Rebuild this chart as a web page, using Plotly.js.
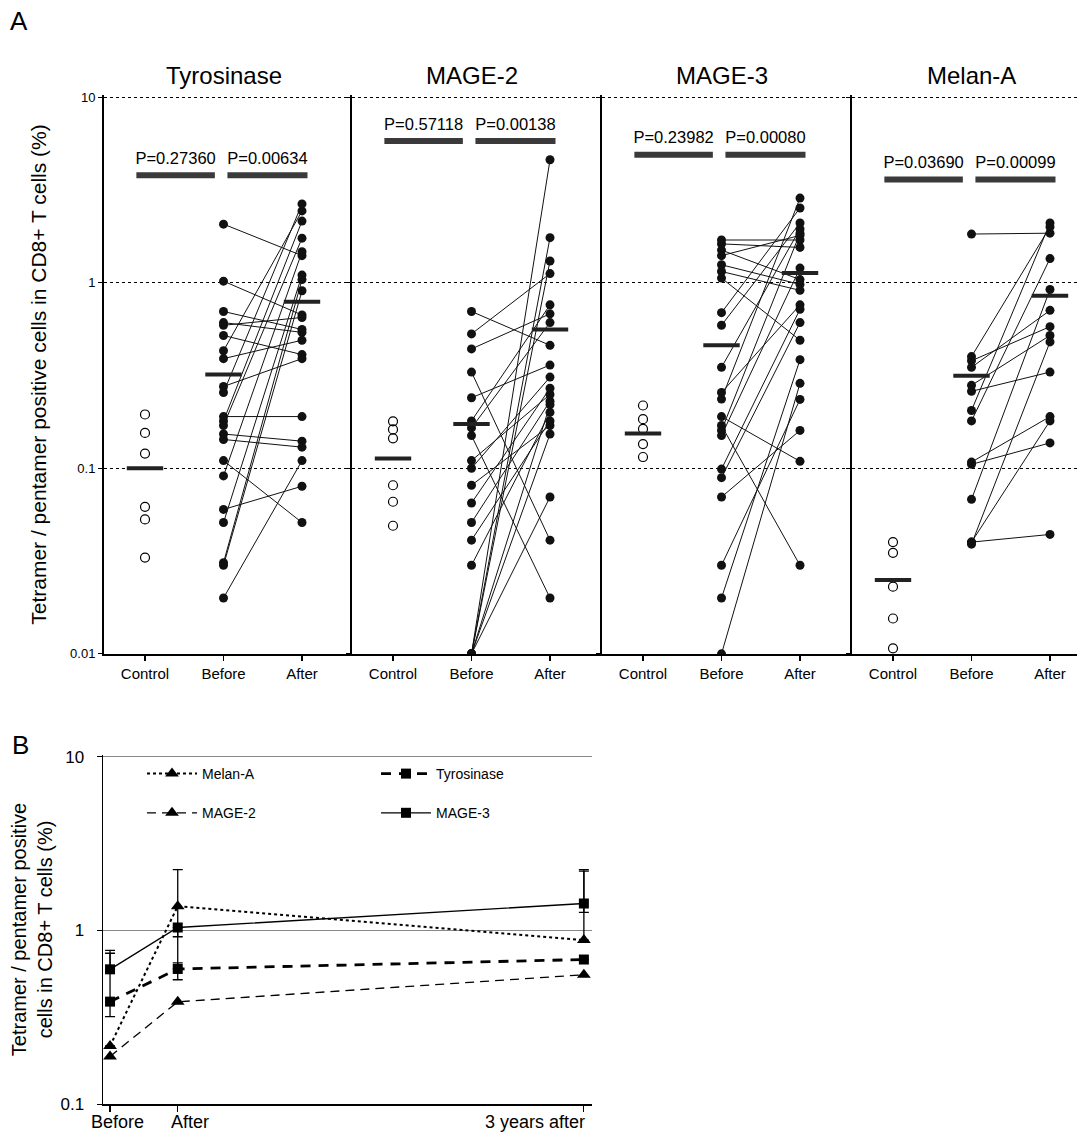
<!DOCTYPE html>
<html><head><meta charset="utf-8">
<script src="https://cdn.plot.ly/plotly-3.0.1.min.js"></script>
<style>body{margin:0;background:#fff}#chart{width:1077px;height:1137px}</style>
</head><body><div id="chart"></div>
<script>
// ---------------- DATA ----------------
const groups = ['Control', 'Before', 'After'];
const panelNames = ['Tyrosinase', 'MAGE-2', 'MAGE-3', 'Melan-A'];

const tyrControl = [0.195, 0.155, 0.12, 0.062, 0.053, 0.033];
const tyrBefore = [2.07, 1.02, 0.70, 0.61, 0.59, 0.52, 0.43, 0.39, 0.276, 0.256, 0.19, 0.18, 0.17, 0.153, 0.143, 0.110, 0.091, 0.060, 0.051, 0.031, 0.030, 0.020];
const tyrAfter  = [1.40, 0.67, 0.56, 0.54, 0.65, 0.41, 2.44, 0.49, 0.39, 2.66, 0.19, 2.15, 1.74, 0.14, 0.13, 0.051, 1.47, 0.080, 1.10, 1.04, 0.905, 0.11];
const tyrMeans = [0.10, 0.32, 0.79];
const tyrP = ['P=0.27360', 'P=0.00634'];

const mage2Control = [0.179, 0.162, 0.145, 0.081, 0.066, 0.049];
const mage2Before = [0.70, 0.53, 0.44, 0.33, 0.24, 0.18, 0.165, 0.15, 0.11, 0.10, 0.081, 0.065, 0.051, 0.041, 0.030, 0.01, 0.01, 0.01, 0.01, 0.01, 0.01];
const mage2After  = [0.46, 1.12, 0.68, 0.041, 0.36, 0.76, 0.61, 0.020, 0.25, 0.31, 0.17, 0.27, 0.23, 0.18, 0.20, 4.6, 1.75, 1.31, 0.22, 0.153, 0.07];
const mage2Means = [0.113, 0.173, 0.56];
const mage2P = ['P=0.57118', 'P=0.00138'];

const mage3Control = [0.218, 0.184, 0.163, 0.135, 0.115];
const mage3Before = [1.70, 1.62, 1.50, 1.40, 1.25, 1.15, 1.06, 0.69, 0.59, 0.35, 0.256, 0.236, 0.19, 0.17, 0.16, 0.15, 0.099, 0.089, 0.07, 0.030, 0.020, 0.01];
const mage3After  = [1.70, 1.55, 1.04, 1.80, 0.98, 0.91, 0.49, 2.53, 2.10, 1.95, 0.76, 2.86, 0.109, 0.030, 1.85, 1.20, 0.72, 0.61, 0.16, 0.235, 0.385, 0.287];
const mage3Means = [0.154, 0.46, 1.13];
const mage3P = ['P=0.23982', 'P=0.00080'];

const melanControl = [0.040, 0.035, 0.023, 0.0155, 0.0107];
const melanBefore = [1.83, 0.40, 0.38, 0.35, 0.28, 0.26, 0.205, 0.18, 0.108, 0.105, 0.068, 0.040, 0.040, 0.039];
const melanAfter  = [1.85, 2.00, 0.58, 0.71, 0.52, 0.33, 2.10, 1.35, 0.19, 0.137, 0.92, 0.044, 0.18, 0.48];
const melanMeans = [0.025, 0.315, 0.85];
const melanP = ['P=0.03690', 'P=0.00099'];

// Panel B
const bTimes = [0, 0.5, 3.5];
const bTickLabels = ['Before', 'After', '3 years after'];
const bSeriesNames = ['Melan-A', 'Tyrosinase', 'MAGE-2', 'MAGE-3'];
const bMelanA = [0.216, 1.38, 0.88];
const bMelanAErrUp = [null, 0.86, 1.32];
const bMelanAErrDown = [null, 0.86, null];
const bTyr = [0.389, 0.60, 0.68];
const bTyrErrUp = [0.35, 0.05, null];
const bTyrErrDown = [0.07, null, null];
const bMAGE2 = [0.188, 0.388, 0.556];
const bMAGE3 = [0.597, 1.04, 1.43];
const bMAGE3ErrUp = [0.17, null, 0.81];
const bMAGE3ErrDown = [null, 0.12, 0.16];

// ---------------- LAYOUT CONSTANTS ----------------
const W = 1077, H = 1137;
const FONT = 'Arial, "Liberation Sans", sans-serif';
const px = v => v / W, py = v => 1 - v / H;
const panelX = [[104, 350], [352, 600], [602, 850], [852, 1077]];
const panelYTop = 95, panelYBot = 654;
const unitPx = 78.5;
const pBarLevel = [3.8, 5.8, 4.9, 3.6];
const pBarSpans = [[-0.11, 0.89], [1.05, 2.07]];

const panelData = [
  [tyrControl, tyrBefore, tyrAfter, tyrMeans, tyrP],
  [mage2Control, mage2Before, mage2After, mage2Means, mage2P],
  [mage3Control, mage3Before, mage3After, mage3Means, mage3P],
  [melanControl, melanBefore, melanAfter, melanMeans, melanP]
];

const traces = [];
const layout = {
  width: W, height: H, margin: {l: 0, r: 0, t: 0, b: 0},
  paper_bgcolor: '#fff', plot_bgcolor: 'rgba(0,0,0,0)',
  font: {family: FONT, color: '#000'},
  showlegend: true,
  annotations: []
};

panelData.forEach((pd, i) => {
  const [control, before, after, means, pvals] = pd;
  const n = i + 1;
  const xa = 'x' + (n > 1 ? n : ''), ya = 'y' + (n > 1 ? n : '');
  const ci = g => groups.indexOf(g);
  // paired lines
  const lx = [], ly = [];
  before.forEach((b, k) => { lx.push(ci('Before'), ci('After'), null); ly.push(b, after[k], null); });
  traces.push({type: 'scatter', mode: 'lines', x: lx, y: ly, xaxis: xa, yaxis: ya,
    line: {color: '#111', width: 1}, hoverinfo: 'skip', showlegend: false});
  // control open circles
  traces.push({type: 'scatter', mode: 'markers', x: control.map(() => ci('Control')), y: control,
    xaxis: xa, yaxis: ya, showlegend: false,
    marker: {symbol: 'circle-open', size: 9, color: '#000', line: {width: 1.2}}});
  // before / after
  traces.push({type: 'scatter', mode: 'markers',
    x: before.map(() => ci('Before')).concat(after.map(() => ci('After'))),
    y: before.concat(after), xaxis: xa, yaxis: ya, showlegend: false,
    marker: {symbol: 'circle', size: 9, color: '#111'}});
  // means
  traces.push({type: 'scatter', mode: 'markers', x: groups.map(ci), y: means, xaxis: xa, yaxis: ya,
    showlegend: false, marker: {symbol: 'line-ew', size: 26, line: {width: 4, color: '#222'}}});
  // p bars
  pBarSpans.forEach((s, k) => {
    traces.push({type: 'scatter', mode: 'lines', x: s, y: [pBarLevel[i], pBarLevel[i]], xaxis: xa, yaxis: ya,
      showlegend: false, hoverinfo: 'skip', line: {color: '#3a3a3a', width: 6}});
    traces.push({type: 'scatter', mode: 'text', x: [(s[0] + s[1]) / 2], y: [pBarLevel[i] * 1.21], text: [pvals[k]],
      xaxis: xa, yaxis: ya, showlegend: false, hoverinfo: 'skip',
      textfont: {size: 16.5, family: FONT, color: '#000'}, textposition: 'middle center'});
  });

  const wpx = panelX[i][1] - panelX[i][0];
  const r0 = -41 / unitPx;
  layout['xaxis' + (n > 1 ? n : '')] = {
    domain: [px(panelX[i][0]), px(panelX[i][1])], anchor: ya,
    range: [r0, r0 + wpx / unitPx], tickvals: groups.map(ci), ticktext: groups,
    showline: true, linecolor: '#000', linewidth: 1.5, mirror: false,
    ticks: 'outside', ticklen: 5, tickwidth: 1.2, tickcolor: '#000',
    showgrid: false, zeroline: false, tickfont: {size: 15, family: FONT}, fixedrange: true
  };
  layout['yaxis' + (n > 1 ? n : '')] = {
    domain: [py(panelYBot), py(panelYTop)], anchor: xa, type: 'log', range: [-2.001, 1.012],
    tickvals: [0.01, 0.1, 1, 10], ticktext: ['0.01', '0.1', '1', '10'],
    showticklabels: i === 0, showline: true, linecolor: '#000', linewidth: 2,
    ticks: 'outside', ticklen: 4, tickwidth: 1.2, tickcolor: '#000',
    showgrid: true, gridcolor: '#000', gridwidth: 1, griddash: 'dot',
    zeroline: false, tickfont: {size: 13, family: FONT}, fixedrange: true,
    title: i === 0 ? {text: 'Tetramer / pentamer positive cells in CD8+ T cells (%)', font: {size: 21, family: FONT}, standoff: 18} : undefined
  };
  layout.annotations.push({text: panelNames[i], xref: 'paper', yref: 'paper',
    x: px(panelX[i][0] + 41 + unitPx), y: py(75), xanchor: 'center', yanchor: 'middle',
    showarrow: false, font: {size: 24, family: FONT}});
});

// ---------------- PANEL B ----------------
const bStyles = {
  'Melan-A':    {y: bMelanA, up: bMelanAErrUp, down: bMelanAErrDown, line: {color: '#000', width: 2, dash: 'dot'}, sym: 'triangle-up', size: 12, legend: 'legend'},
  'Tyrosinase': {y: bTyr, up: bTyrErrUp, down: bTyrErrDown, line: {color: '#000', width: 2.8, dash: '10px,8px'}, sym: 'square', size: 10, legend: 'legend2'},
  'MAGE-2':     {y: bMAGE2, line: {color: '#000', width: 1.3, dash: '9px,6px'}, sym: 'triangle-up', size: 12, legend: 'legend'},
  'MAGE-3':     {y: bMAGE3, up: bMAGE3ErrUp, down: bMAGE3ErrDown, line: {color: '#000', width: 1.3}, sym: 'square', size: 10, legend: 'legend2'}
};
bSeriesNames.forEach(name => {
  const s = bStyles[name];
  const t = {type: 'scatter', mode: 'lines+markers', name: name, x: bTimes, y: s.y,
    xaxis: 'x5', yaxis: 'y5', line: s.line, legend: s.legend, legendgroup: name,
    marker: {symbol: s.sym, size: s.size, color: '#000'}};
  if (s.up) t.error_y = {type: 'data', symmetric: false, array: s.up, arrayminus: s.down, color: '#000', thickness: 1.3, width: 5};
  traces.push(t);
});
layout.xaxis5 = {domain: [px(103), px(592)], anchor: 'y5', range: [-0.052, 3.56],
  tickvals: bTimes, showticklabels: false, ticks: 'outside', ticklen: 6, tickwidth: 1.2, tickcolor: '#000',
  showline: true, linecolor: '#000', linewidth: 1.5, showgrid: false, zeroline: false, fixedrange: true};
layout.yaxis5 = {domain: [py(1104), py(755)], anchor: 'x5', type: 'log', range: [-1, 1.011],
  tickvals: [0.1, 1, 10], ticktext: ['0.1', '1', '10'], tickfont: {size: 17, family: FONT},
  showline: true, linecolor: '#000', linewidth: 1.5, ticks: 'outside', ticklen: 5, tickcolor: '#000',
  ticklabelstandoff: 9,
  showgrid: true, gridcolor: '#888', gridwidth: 1, zeroline: false, fixedrange: true,
  title: {text: 'Tetramer / pentamer positive<br>cells in CD8+ T cells (%)', font: {size: 20, family: FONT}, standoff: 2}};
const bLabelShift = [7, 12, 3];
bTickLabels.forEach((lab, k) => {
  layout.annotations.push({text: lab, xref: 'x5', yref: 'paper', x: bTimes[k], y: py(1122),
    xanchor: k === 2 ? 'right' : 'center', yanchor: 'middle', xshift: bLabelShift[k],
    showarrow: false, font: {size: 18, family: FONT}});
});
const legendCommon = {xanchor: 'left', yanchor: 'top', bgcolor: 'rgba(0,0,0,0)', borderwidth: 0,
  font: {size: 14, family: FONT}, itemwidth: 50, traceorder: 'grouped', tracegroupgap: 18, itemclick: false};
layout.legend = Object.assign({x: px(142), y: py(758)}, legendCommon);
layout.legend2 = Object.assign({x: px(376), y: py(758)}, legendCommon);

// panel letters
layout.annotations.push({text: 'A', xref: 'paper', yref: 'paper', x: px(8), y: py(4), xanchor: 'left', yanchor: 'top', showarrow: false, font: {size: 26, family: FONT}});
layout.annotations.push({text: 'B', xref: 'paper', yref: 'paper', x: px(10), y: py(728), xanchor: 'left', yanchor: 'top', showarrow: false, font: {size: 26, family: FONT}});

Plotly.newPlot('chart', traces, layout, {displayModeBar: false, staticPlot: true});
</script>
</body></html>
